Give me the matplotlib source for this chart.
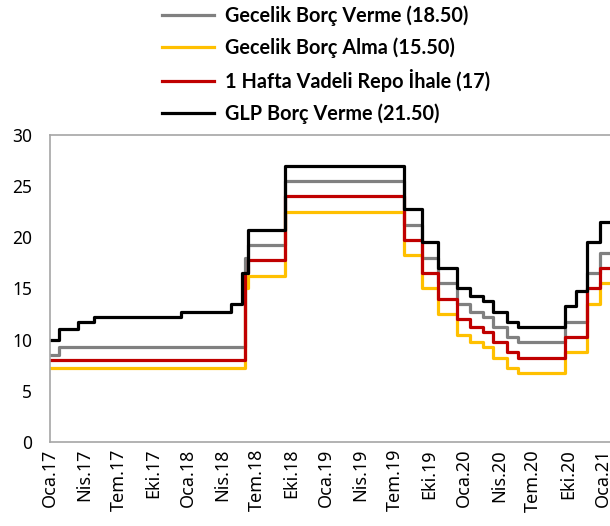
import numpy as np
import pandas as pd
import matplotlib
matplotlib.use("Agg")
import matplotlib.pyplot as plt
import matplotlib.dates as mdates

# dates where rates changed (rate holds until next date)
dates = ["2017-01-01", "2017-01-24", "2017-03-16", "2017-04-26", "2017-12-14",
         "2018-04-25", "2018-05-23", "2018-06-01", "2018-06-07", "2018-09-13",
         "2019-07-25", "2019-09-12", "2019-10-24", "2019-12-12", "2020-01-16",
         "2020-02-19", "2020-03-17", "2020-04-22", "2020-05-21", "2020-09-24",
         "2020-10-22", "2020-11-19", "2020-12-24", "2021-02-01"]

gecelik_verme = [8.50, 9.25, 9.25, 9.25, 9.25, 9.25, 9.25, 18.00, 19.25, 25.50,
                 21.25, 18.00, 15.50, 13.50, 12.75, 12.25, 11.25, 10.25, 9.75, 11.75,
                 11.75, 16.50, 18.50, 18.50]
gecelik_alma = [7.25, 7.25, 7.25, 7.25, 7.25, 7.25, 7.25, 15.00, 16.25, 22.50,
                18.25, 15.00, 12.50, 10.50, 9.75, 9.25, 8.25, 7.25, 6.75, 8.75,
                8.75, 13.50, 15.50, 15.50]
repo = [8.00, 8.00, 8.00, 8.00, 8.00, 8.00, 8.00, 16.50, 17.75, 24.00,
        19.75, 16.50, 14.00, 12.00, 11.25, 10.75, 9.75, 8.75, 8.25, 10.25,
        10.25, 15.00, 17.00, 17.00]
glp = [10.00, 11.00, 11.75, 12.25, 12.75, 13.50, 16.50, 16.50, 20.75, 27.00,
       22.75, 19.50, 17.00, 15.00, 14.25, 13.75, 12.75, 11.75, 11.25, 13.25,
       14.75, 19.50, 21.50, 21.50]

labels = ["Gecelik Borç Verme (18.50)", "Gecelik Borç Alma (15.50)",
          "1 Hafta Vadeli Repo İhale (17)", "GLP Borç Verme (21.50)"]
colors = ["#808080", "#FFC000", "#C00000", "#000000"]

tick_dates = pd.date_range("2017-01-01", "2021-01-01", freq="3MS")
month_tr = {1: "Oca", 4: "Nis", 7: "Tem", 10: "Eki"}
tick_labels = [f"{month_tr[d.month]}.{d.strftime('%y')}" for d in tick_dates]

plt.rcParams["font.family"] = ["Noto Sans", "DejaVu Sans"]
plt.rcParams["xtick.labelsize"] = 13
plt.rcParams["ytick.labelsize"] = 12.5
plt.rcParams["xtick.major.size"] = 0
plt.rcParams["ytick.major.size"] = 0
plt.rcParams["xtick.major.pad"] = 5
plt.rcParams["ytick.major.pad"] = 13

x = pd.to_datetime(dates)

fig = plt.figure(figsize=(6.10, 5.26), dpi=100)
ax = fig.add_axes([0.082, 0.1597, 0.918, 0.5837])

lines = []
for vals, lab, col in zip([gecelik_verme, gecelik_alma, repo, glp], labels, colors):
    ln, = ax.step(x, vals, where="post", color=col, lw=2.3, label=lab)
    lines.append(ln)

ax.set_ylim(0, 30)
ax.set_xlim(pd.Timestamp("2017-01-01"), pd.Timestamp("2021-01-20"))
ax.set_yticks(range(0, 31, 5))
ax.set_xticks(tick_dates)
ax.set_xticklabels(tick_labels, rotation=90)
for s in ["left", "bottom", "top"]:
    ax.spines[s].set_color("#A6A6A6")
    ax.spines[s].set_linewidth(1.2)
ax.spines["right"].set_visible(False)

leg = fig.legend(handles=lines, loc="upper left", bbox_to_anchor=(0.2656, 0.99),
                 frameon=False, borderpad=0, borderaxespad=0,
                 handlelength=2.6, handletextpad=0.55,
                 labelspacing=0.57,
                 prop={"family": "Lato", "weight": "bold", "size": 14.3})

fig.savefig("out.png", dpi=100)
